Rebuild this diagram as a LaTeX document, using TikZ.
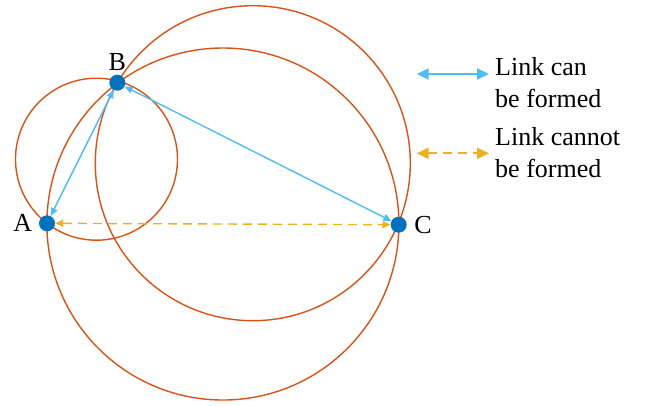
\documentclass[tikz,border=0pt]{standalone}
\usepackage{fontspec}
\setmainfont{Liberation Serif}
\usetikzlibrary{arrows.meta,positioning}
\definecolor{ringred}{HTML}{D95319}
\definecolor{dotblue}{HTML}{0072BD}
\definecolor{linkblue}{HTML}{4DBEEE}
\definecolor{linkorange}{HTML}{EDB120}

\begin{document}
\begin{tikzpicture}[x=1pt,y=-1pt,
  every node/.style={font=\fontsize{26}{32}\selectfont},
  pt/.style={circle,fill=dotblue,inner sep=0pt,minimum size=16pt},
  ring/.style={draw=ringred,line width=1.4pt},
  can/.style={{Triangle[length=8pt,width=7pt]}-{Triangle[length=8pt,width=7pt]},draw=linkblue,line width=1.4pt},
  cannot/.style={{Triangle[length=8pt,width=7pt]}-{Triangle[length=8pt,width=7pt]},draw=linkorange,line width=1.4pt,dash pattern=on 9pt off 6pt},
  big/.style={{Triangle[length=12pt,width=11pt]}-{Triangle[length=12pt,width=11pt]},line width=2pt},
  txt/.style={align=left,anchor=north west,inner sep=0pt}]
\useasboundingbox (0,0) rectangle (652,405);
% circles
\draw[ring] (96.5,159.2) circle[radius=81pt];
\draw[ring] (222.9,224) circle[radius=176pt];
\draw[ring] (252.8,163.2) circle[radius=157.5pt];
% points
\node[pt,label={[label distance=3pt]left:A}] (A) at (47,223.3) {};
\node[pt,label={[label distance=0pt]above:B}] (B) at (117.3,82.7) {};
\node[pt,label={[label distance=4pt]right:C}] (C) at (398.7,224.7) {};
\draw[can] (A) -- (B);
\draw[can] (B) -- (C);
\draw[cannot] (A) -- (C);
% legend
\coordinate (CanL) at (416.7,74);
\coordinate (CanR) at (489,74);
\coordinate (NotL) at (416.7,153.3);
\coordinate (NotR) at (489,153.3);
\draw[can,big] (CanL) -- (CanR);
\draw[cannot,big] (NotL) -- (NotR);
\node[txt] (CanText) at (495,57) {Link can\\be formed};
\node[txt] (NotText) at (495,127) {Link cannot\\be formed};
\end{tikzpicture}
\end{document}
